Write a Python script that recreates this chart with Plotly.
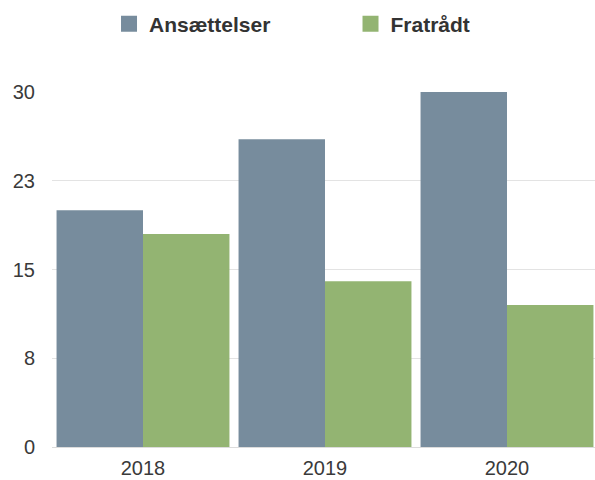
import plotly.graph_objects as go

years = ["2018", "2019", "2020"]
ansaettelser = [20, 26, 30]
fratraadt = [18, 14, 12]
series_names = ["Ansættelser", "Fratrådt"]
y_tickvals = [0, 7.5, 15, 22.5, 30]
y_ticktext = ["0", "8", "15", "23", "30"]

colors = ["#778c9d", "#93b472"]
font_family = "Liberation Sans, Arial, Helvetica, sans-serif"

fig = go.Figure()
for name, vals, col in zip(series_names, [ansaettelser, fratraadt], colors):
    fig.add_trace(go.Bar(x=years, y=vals, name=name, marker_color=col,
                         marker_line_width=0, showlegend=False))
    # legend entry with larger square symbol
    fig.add_trace(go.Scatter(x=[None], y=[None], mode="markers", name=name,
                             marker=dict(symbol="square", size=16, color=col)))

fig.update_layout(
    width=595, height=480,
    margin=dict(l=52, r=0, t=92, b=33, autoexpand=False),
    plot_bgcolor="white", paper_bgcolor="white",
    barmode="group", bargap=0.05, bargroupgap=0,
    font=dict(family=font_family, size=20, color="#3a3a3a"),
    legend=dict(orientation="h", x=0.105, y=0.95, xanchor="left", yanchor="middle",
                yref="container", entrywidth=196.5, entrywidthmode="pixels",
                font=dict(size=21, color="#333333", weight="bold"),
                bgcolor="rgba(0,0,0,0)"),
    showlegend=True,
)
fig.update_xaxes(type="category", range=[-0.5, 2.4835], showgrid=False, showline=False,
                 zeroline=False, ticks="", automargin=False, ticklabelstandoff=7,
                 tickfont=dict(size=20, color="#3a3a3a"))
fig.update_yaxes(range=[0, 30], tickvals=y_tickvals, ticktext=y_ticktext,
                 showgrid=True, gridcolor="#e3e3e3", gridwidth=1,
                 zeroline=True, zerolinecolor="#dcdcdc", zerolinewidth=1,
                 showline=False, ticks="", ticklabelstandoff=16, automargin=False,
                 tickfont=dict(size=20, color="#3a3a3a"))

fig.write_html("out.html", config={"displayModeBar": False},
               post_script="document.body.style.margin='0';document.body.style.overflow='hidden';")
